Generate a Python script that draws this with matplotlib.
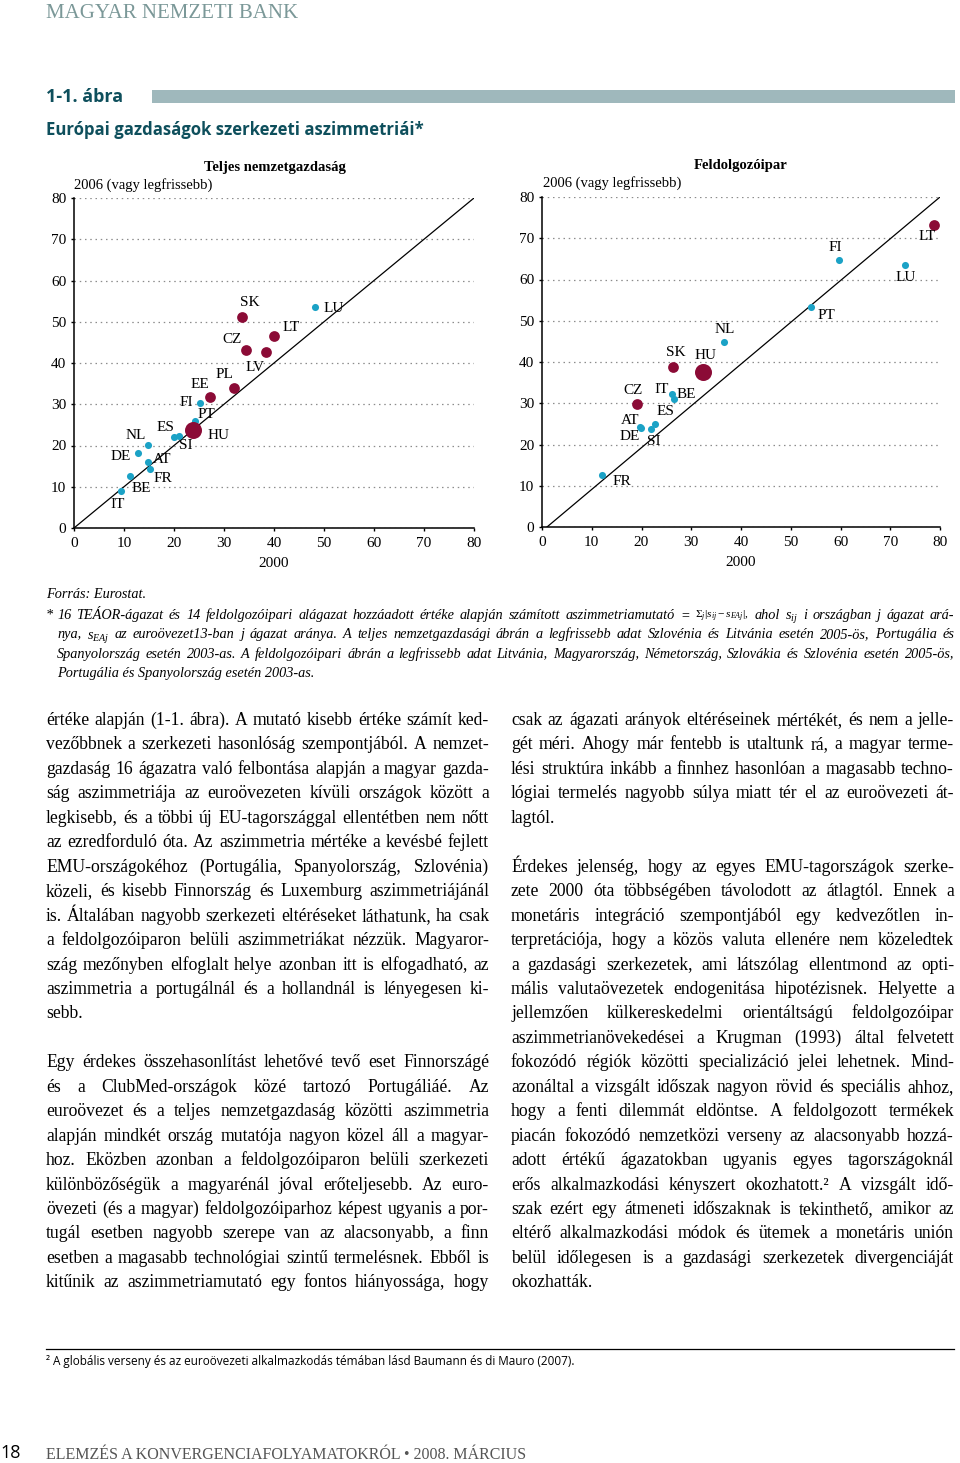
import matplotlib
matplotlib.use('Agg')
import matplotlib.pyplot as plt
from matplotlib.patches import Rectangle
from matplotlib.lines import Line2D

W, H = 960, 1463
SERIF = 'Liberation Serif'
SANS = 'Open Sans'
BLUE = '#1ba2c6'
RED = '#8b0b36'
TEAL = '#0e4f5c'

plt.rcParams['font.family'] = SERIF
plt.rcParams['mathtext.fontset'] = 'custom'
plt.rcParams['mathtext.rm'] = 'Liberation Serif'
plt.rcParams['mathtext.it'] = 'Liberation Serif:italic'

# Teljes nemzetgazdasag (total economy): x = 2000, y = 2006
tot_names = ['IT', 'BE', 'DE', 'NL', 'AT', 'FR', 'ES', 'SI', 'PT', 'HU',
             'FI', 'EE', 'PL', 'CZ', 'LV', 'LT', 'SK', 'LU']
tot_2000 = [9.3, 11.2, 12.7, 14.8, 14.8, 15.1, 20.0, 20.9, 24.1, 23.8,
            25.1, 27.1, 32.0, 34.4, 38.4, 40.0, 33.5, 48.1]
tot_2006 = [8.9, 12.5, 18.2, 20.1, 15.9, 14.3, 22.1, 22.4, 26.0, 23.8,
            30.4, 31.7, 34.0, 43.1, 42.6, 46.5, 51.1, 53.5]
tot_new = ['HU', 'EE', 'PL', 'CZ', 'LV', 'LT', 'SK']

# Feldolgozoipar (manufacturing)
man_names = ['FR', 'AT', 'DE', 'SI', 'ES', 'CZ', 'IT', 'BE', 'SK', 'HU',
             'NL', 'PT', 'FI', 'LU', 'LT']
man_2000 = [12.1, 19.7, 19.8, 22.0, 22.8, 19.1, 26.1, 26.5, 26.4, 32.3,
            36.6, 54.1, 59.6, 73.0, 78.7]
man_2006 = [12.5, 24.3, 24.1, 23.7, 24.9, 29.9, 32.3, 31.1, 38.8, 37.6,
            44.8, 53.3, 64.7, 63.4, 73.2]
man_new = ['CZ', 'SK', 'HU', 'LT']

diag_tot = ([0, 80], [0, 80])
diag_man = ([1, 80], [0, 80])
ticks = [0, 10, 20, 30, 40, 50, 60, 70, 80]

# label offsets in pixels (right, down)
tot_off = {'IT': (-3, 13), 'BE': (11, 12), 'DE': (-17, 4), 'NL': (-12, -10),
           'AT': (14, -3), 'FR': (13, 9), 'ES': (-9, -9), 'SI': (7, 10),
           'PT': (12, -6), 'HU': (26, 6), 'FI': (-13, 0), 'EE': (-10, -13),
           'PL': (-10, -13), 'CZ': (-14, -11), 'LV': (-11, 15), 'LT': (17, -9),
           'SK': (8, -15), 'LU': (19, 1)}
man_off = {'FR': (20, 6), 'AT': (-10, -6), 'DE': (-11, 9), 'SI': (2, 12),
           'ES': (10, -13), 'CZ': (-4, -13), 'IT': (-10, -4), 'BE': (12, -4),
           'SK': (2, -14), 'HU': (3, -16), 'NL': (1, -13), 'PT': (15, 8),
           'FI': (-3, -13), 'LU': (1, 12), 'LT': (-6, 11)}

left_col = [
    "értéke alapján (1-1. ábra). A mutató kisebb értéke számít ked-",
    "vezőbbnek a szerkezeti hasonlóság szempontjából. A nemzet-",
    "gazdaság 16 ágazatra való felbontása alapján a magyar gazda-",
    "ság aszimmetriája az euroövezeten kívüli országok között a",
    "legkisebb, és a többi új EU-tagországgal ellentétben nem nőtt",
    "az ezredforduló óta. Az aszimmetria mértéke a kevésbé fejlett",
    "EMU-országokéhoz (Portugália, Spanyolország, Szlovénia)",
    "közeli, és kisebb Finnország és Luxemburg aszimmetriájánál",
    "is. Általában nagyobb szerkezeti eltéréseket láthatunk, ha csak",
    "a feldolgozóiparon belüli aszimmetriákat nézzük. Magyaror-",
    "szág mezőnyben elfoglalt helye azonban itt is elfogadható, az",
    "aszimmetria a portugálnál és a hollandnál is lényegesen ki-",
    "sebb.",
    "",
    "Egy érdekes összehasonlítást lehetővé tevő eset Finnországé",
    "és a ClubMed-országok közé tartozó Portugáliáé. Az",
    "euroövezet és a teljes nemzetgazdaság közötti aszimmetria",
    "alapján mindkét ország mutatója nagyon közel áll a magyar-",
    "hoz. Eközben azonban a feldolgozóiparon belüli szerkezeti",
    "különbözőségük a magyarénál jóval erőteljesebb. Az euro-",
    "övezeti (és a magyar) feldolgozóiparhoz képest ugyanis a por-",
    "tugál esetben nagyobb szerepe van az alacsonyabb, a finn",
    "esetben a magasabb technológiai szintű termelésnek. Ebből is",
    "kitűnik az aszimmetriamutató egy fontos hiányossága, hogy",
]
right_col = [
    "csak az ágazati arányok eltéréseinek mértékét, és nem a jelle-",
    "gét méri. Ahogy már fentebb is utaltunk rá, a magyar terme-",
    "lési struktúra inkább a finnhez hasonlóan a magasabb techno-",
    "lógiai termelés nagyobb súlya miatt tér el az euroövezeti át-",
    "lagtól.",
    "",
    "Érdekes jelenség, hogy az egyes EMU-tagországok szerke-",
    "zete 2000 óta többségében távolodott az átlagtól. Ennek a",
    "monetáris integráció szempontjából egy kedvezőtlen in-",
    "terpretációja, hogy a közös valuta ellenére nem közeledtek",
    "a gazdasági szerkezetek, ami látszólag ellentmond az opti-",
    "mális valutaövezetek endogenitása hipotézisnek. Helyette a",
    "jellemzően külkereskedelmi orientáltságú feldolgozóipar",
    "aszimmetrianövekedései a Krugman (1993) által felvetett",
    "fokozódó régiók közötti specializáció jelei lehetnek. Mind-",
    "azonáltal a vizsgált időszak nagyon rövid és speciális ahhoz,",
    "hogy a fenti dilemmát eldöntse. A feldolgozott termékek",
    "piacán fokozódó nemzetközi verseny az alacsonyabb hozzá-",
    "adott értékű ágazatokban ugyanis egyes tagországoknál",
    "erős alkalmazkodási kényszert okozhatott.² A vizsgált idő-",
    "szak ezért egy átmeneti időszaknak is tekinthető, amikor az",
    "eltérő alkalmazkodási módok és ütemek a monetáris unión",
    "belül időlegesen is a gazdasági szerkezetek divergenciáját",
    "okozhatták.",
]
note_lines = [
    "16 TEÁOR-ágazat és 14 feldolgozóipari alágazat hozzáadott értéke alapján számított aszimmetriamutató = "
    r"$\Sigma_j|s_{ij}-s_{EAj}|$, ahol $s_{ij}$ i országban j ágazat ará-",
    r"nya, $s_{EAj}$ az euroövezet13-ban j ágazat aránya. A teljes nemzetgazdasági ábrán a legfrissebb adat "
    "Szlovénia és Litvánia esetén 2005-ös, Portugália és",
    "Spanyolország esetén 2003-as. A feldolgozóipari ábrán a legfrissebb adat Litvánia, Magyarország, "
    "Németország, Szlovákia és Szlovénia esetén 2005-ös,",
    "Portugália és Spanyolország esetén 2003-as.",
]

fig = plt.figure(figsize=(9.6, 14.63), dpi=100)
renderer = fig.canvas.get_renderer()


def fx(x):
    return x / W


def fy(y):
    return 1 - y / H


def justify(line, x0, x1, y, last=False, fontsize=12, **kw):
    if last:
        fig.text(fx(x0), fy(y), line, va='baseline', fontsize=fontsize, **kw)
        return
    words = line.split(' ')
    arts = []
    for w in words:
        fs = fontsize * 0.8 if '\\' in w else fontsize
        arts.append(fig.text(0, fy(y), w, va='baseline', fontsize=fs, **kw))
    widths = [a.get_window_extent(renderer).width for a in arts]
    gap = (x1 - x0 - sum(widths)) / max(len(words) - 1, 1)
    x = x0
    for a, w in zip(arts, widths):
        a.set_x(fx(x))
        x += w + gap


def scatter_panel(ax, names, xs, ys, new, offs, diag):
    ax.plot(diag[0], diag[1], color='black', lw=0.9, zorder=2)
    for n, x, y in zip(names, xs, ys):
        if n == 'HU':
            c, s = RED, 150
        elif n in new:
            c, s = RED, 60
        else:
            c, s = BLUE, 26
        ax.scatter(x, y, s=s, color=c, zorder=3, linewidths=0)
        dx, dy = offs[n]
        ax.annotate(n, (x, y), xytext=(dx, -dy), textcoords='offset pixels',
                    ha='center', va='center', fontsize=11, family=SERIF)
    ax.set_xlim(0, 80)
    ax.set_ylim(0, 80)
    ax.set_xticks(ticks)
    ax.set_yticks(ticks)
    for s in ('top', 'right'):
        ax.spines[s].set_visible(False)
    for s in ('left', 'bottom'):
        ax.spines[s].set_linewidth(1.1)
    ax.yaxis.grid(True, linestyle=(0, (1.2, 3)), color='#8c8c8c', lw=0.9)
    ax.set_axisbelow(True)
    ax.tick_params(direction='out', length=2.5, width=1, labelsize=11, pad=3)
    ax.tick_params(axis='x', pad=4)
    ax.set_xlabel('2000', fontsize=11, labelpad=5)
    ax.patch.set_alpha(0)


ax1 = fig.add_axes([fx(74), fy(528), 400 / W, 330 / H])
scatter_panel(ax1, tot_names, tot_2000, tot_2006, tot_new, tot_off, diag_tot)
ax2 = fig.add_axes([fx(542), fy(527), 398 / W, 330 / H])
scatter_panel(ax2, man_names, man_2000, man_2006, man_new, man_off, diag_man)

fig.text(fx(275), fy(168), 'Teljes nemzetgazdaság', ha='center', va='center',
         fontsize=10.5, fontweight='bold')
fig.text(fx(741), fy(166), 'Feldolgozóipar', ha='center', va='center',
         fontsize=10.5, fontweight='bold')
fig.text(fx(74), fy(185), '2006 (vagy legfrissebb)', va='center', fontsize=10.5)
fig.text(fx(543), fy(183), '2006 (vagy legfrissebb)', va='center', fontsize=10.5)

# page header
fig.text(fx(46), fy(14), 'MAGYAR NEMZETI BANK', va='center', fontsize=15,
         color='#7b9898')
fig.text(fx(46), fy(97), '1-1. ábra', va='center', fontsize=13,
         fontweight='bold', family=SANS, color=TEAL)
fig.add_artist(Rectangle((fx(152), fy(103)), (955 - 152) / W, 13 / H,
                         transform=fig.transFigure, color='#9fb8bc', lw=0))
fig.text(fx(46), fy(130), 'Európai gazdaságok szerkezeti aszimmetriái*', va='center',
         fontsize=12.1, fontweight='bold', family=SANS, color=TEAL)

# source and notes
fig.text(fx(46), fy(598), 'Forrás: Eurostat.', va='baseline', fontsize=10.3, style='italic')
fig.text(fx(46), fy(619), '*', va='baseline', fontsize=10.3, style='italic')
note_base = [619, 638.5, 657.5, 677]
for i, line in enumerate(note_lines):
    justify(line, 57, 954, note_base[i], last=(i == len(note_lines) - 1),
            fontsize=10.3, style='italic')

# body text
for col, x0, x1 in ((left_col, 46, 489), (right_col, 511, 954)):
    for i, line in enumerate(col):
        if not line:
            continue
        nxt = col[i + 1] if i + 1 < len(col) else 'x'
        last = (nxt == '') or (col is right_col and i == len(col) - 1)
        justify(line, x0, x1, 725 + 24.45 * i, last=last, fontsize=12.7)

# footnote and footer
fig.add_artist(Line2D([fx(46), fx(954)], [fy(1349), fy(1349)],
                      transform=fig.transFigure, color='black', lw=0.9))
fig.text(fx(46), fy(1361), '² A globális verseny és az euroövezeti alkalmazkodás témában '
         'lásd Baumann és di Mauro (2007).', va='center', fontsize=8.5, family=SANS)
fig.text(fx(0), fy(1453), '18', va='center', fontsize=13, family=SANS)
fig.text(fx(46), fy(1455), 'ELEMZÉS A KONVERGENCIAFOLYAMATOKRÓL • 2008. MÁRCIUS',
         va='center', fontsize=11.5, color='#555555')

fig.savefig('out.png', dpi=100)
